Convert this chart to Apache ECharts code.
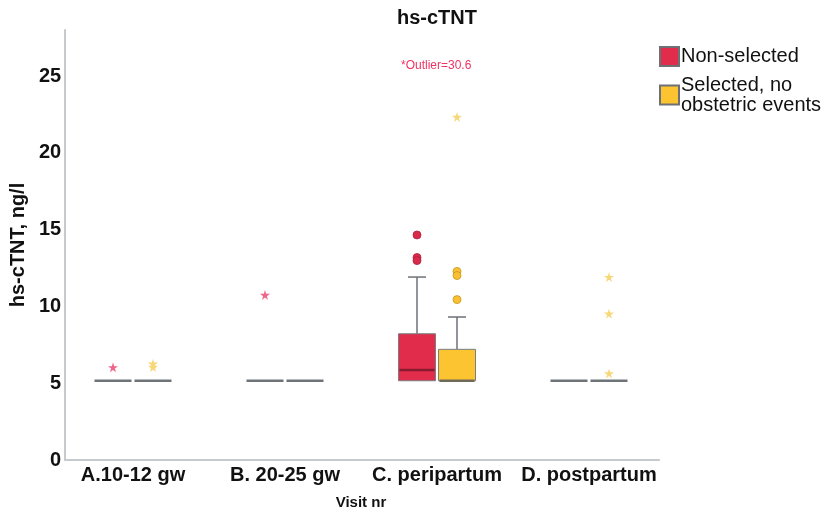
<!DOCTYPE html>
<html>
<head>
<meta charset="utf-8">
<script src="https://cdn.jsdelivr.net/npm/echarts@6/dist/echarts.min.js"></script>
<style>
  html, body { margin: 0; padding: 0; background: #fff; }
  #chart { width: 829px; height: 515px; }
</style>
</head>
<body>
<div id="chart"></div>
<script>
// visit categories
const categories = ['A.10-12 gw', 'B. 20-25 gw', 'C. peripartum', 'D. postpartum']

// box stats per visit: [min, q1, median, q3, max]
const nonSelectedBox = [[5, 5, 5, 5, 5], [5, 5, 5, 5, 5], [5, 5, 5.7, 8.08, 11.8], [5, 5, 5, 5, 5]]
const selectedBox = [[5, 5, 5, 5, 5], [5, 5, 5, 5, 5], [5, 5, 5, 7.06, 9.18], [5, 5, 5, 5, 5]]

// outliers: [visit index, value]
const nonSelectedCircles = [[2, 14.56], [2, 13.08], [2, 12.88]]
const nonSelectedStars = [[0, 5.88], [1, 10.63]]
const selectedCircles = [[2, 12.17], [2, 11.9], [2, 10.32]]
const selectedStars = [[0, 6.12], [0, 5.9], [2, 22.3], [3, 11.8], [3, 9.4], [3, 5.48]]

const yTicks = [0, 5, 10, 15, 20, 25]

const FONT = "'Liberation Sans', Arial, sans-serif"
const STAR = 'path://M50,0 L61,35 L98,35 L68,57 L79,91 L50,70 L21,91 L32,57 L2,35 L39,35 Z'

const chart = echarts.init(document.getElementById('chart'))

const boxRender = (offset, fill, medianColor) => (params, api) => {
  const c = api.value(0)
  const lo = api.value(1), q1 = api.value(2), med = api.value(3), q3 = api.value(4), hi = api.value(5)
  const halfW = 18.5
  const capW = 9
  const x = api.coord([c, q1])[0] + offset
  const yQ1 = api.coord([c, q1])[1]
  const yQ3 = api.coord([c, q3])[1]
  const yMed = api.coord([c, med])[1]
  const yLo = api.coord([c, lo])[1]
  const yHi = api.coord([c, hi])[1]
  const whisker = { stroke: '#6c7176', lineWidth: 1.5 }
  const children = []
  if (hi > q3) {
    children.push({ type: 'line', shape: { x1: x, y1: yQ3, x2: x, y2: yHi }, style: whisker })
    children.push({ type: 'line', shape: { x1: x - capW, y1: yHi, x2: x + capW, y2: yHi }, style: whisker })
  }
  if (lo < q1) {
    children.push({ type: 'line', shape: { x1: x, y1: yQ1, x2: x, y2: yLo }, style: whisker })
    children.push({ type: 'line', shape: { x1: x - capW, y1: yLo, x2: x + capW, y2: yLo }, style: whisker })
  }
  if (q3 > q1) {
    children.push({
      type: 'rect',
      shape: { x: x - halfW, y: yQ3, width: halfW * 2, height: yQ1 - yQ3 },
      style: { fill: fill, stroke: '#7a7e82', lineWidth: 1 }
    })
    children.push({
      type: 'line',
      shape: { x1: x - halfW + 1, y1: yMed, x2: x + halfW - 1, y2: yMed },
      style: { stroke: medianColor, lineWidth: 2.5 }
    })
  } else {
    children.push({
      type: 'line',
      shape: { x1: x - halfW, y1: yMed, x2: x + halfW, y2: yMed },
      style: { stroke: '#6f7479', lineWidth: 2.5 }
    })
  }
  return { type: 'group', children }
}

const toRows = (boxes) => boxes.map((b, i) => [i, ...b])

const axisLineStyle = { color: '#c6cacd', width: 2 }

const option = {
  animation: false,
  textStyle: { fontFamily: FONT },
  title: {
    text: 'hs-cTNT',
    left: 397,
    top: 8,
    padding: 0,
    textStyle: { fontFamily: FONT, fontSize: 20, fontWeight: 'bold', color: '#111' }
  },
  graphic: [{
    type: 'text',
    left: 401,
    top: 60,
    style: { text: '*Outlier=30.6', fill: '#ef3463', font: '12px ' + FONT }
  }],
  legend: {
    orient: 'vertical',
    left: 659,
    top: 46,
    padding: 0,
    itemWidth: 19,
    itemHeight: 19,
    itemGap: 8,
    icon: 'rect',
    data: ['Non-selected', 'Selected, no\nobstetric events'],
    textStyle: { fontFamily: FONT, fontSize: 20, lineHeight: 20, color: '#111', padding: [0, 0, 0, -3] }
  },
  grid: [
    { left: 63, right: 170, top: 30, bottom: 55 },
    { left: 57, right: 164, top: 30, bottom: 55 }
  ],
  xAxis: [{
    gridIndex: 0,
    type: 'category',
    data: categories,
    axisLine: { show: true, lineStyle: axisLineStyle },
    axisTick: { show: false },
    axisLabel: { show: false },
    splitLine: { show: false }
  }, {
    gridIndex: 1,
    type: 'category',
    data: categories,
    axisLine: { show: false },
    axisTick: { show: false },
    axisLabel: { interval: 0, fontFamily: FONT, fontSize: 20, fontWeight: 'bold', color: '#111', margin: 8 },
    name: 'Visit nr',
    nameLocation: 'middle',
    nameGap: 38,
    nameTextStyle: { fontFamily: FONT, fontSize: 15, fontWeight: 'bold', color: '#111' }
  }],
  yAxis: [{
    gridIndex: 0,
    type: 'value',
    min: 0,
    max: 28,
    interval: 5,
    axisLine: { show: true, lineStyle: axisLineStyle },
    axisTick: { show: false },
    splitLine: { show: false },
    axisLabel: {
      fontFamily: FONT, fontSize: 20, fontWeight: 'bold', color: '#111', margin: 4,
      formatter: v => (yTicks.includes(v) ? String(v) : '')
    },
    name: 'hs-cTNT, ng/l',
    nameLocation: 'middle',
    nameGap: 34,
    nameTextStyle: { fontFamily: FONT, fontSize: 20, fontWeight: 'bold', color: '#111' }
  }, {
    gridIndex: 1,
    type: 'value',
    min: 0,
    max: 28,
    show: false
  }],
  series: [{
    name: 'Non-selected',
    type: 'custom',
    xAxisIndex: 1,
    yAxisIndex: 1,
    data: toRows(nonSelectedBox),
    encode: { x: 0, y: [1, 2, 3, 4, 5] },
    itemStyle: { color: '#e12c4b', borderColor: '#6d7075', borderWidth: 1 },
    renderItem: boxRender(-20, '#e12c4b', '#8a1a2f')
  }, {
    name: 'Selected, no\nobstetric events',
    type: 'custom',
    xAxisIndex: 1,
    yAxisIndex: 1,
    data: toRows(selectedBox),
    encode: { x: 0, y: [1, 2, 3, 4, 5] },
    itemStyle: { color: '#fdc431', borderColor: '#6d7075', borderWidth: 1 },
    renderItem: boxRender(20, '#fdc431', '#6f6a5a')
  }, {
    name: 'ns-circles',
    type: 'scatter',
    xAxisIndex: 1,
    yAxisIndex: 1,
    data: nonSelectedCircles,
    symbol: 'circle',
    symbolSize: 8,
    symbolOffset: [-20, 0],
    itemStyle: { color: '#d92a4a', borderColor: '#b02040', borderWidth: 0.8, opacity: 1 },
    z: 5
  }, {
    name: 'ns-stars',
    type: 'scatter',
    xAxisIndex: 1,
    yAxisIndex: 1,
    data: nonSelectedStars,
    symbol: STAR,
    symbolSize: 10,
    symbolOffset: [-20, 0],
    itemStyle: { color: '#f0668a', opacity: 1 },
    z: 5
  }, {
    name: 's-circles',
    type: 'scatter',
    xAxisIndex: 1,
    yAxisIndex: 1,
    data: selectedCircles,
    symbol: 'circle',
    symbolSize: 8,
    symbolOffset: [20, 0],
    itemStyle: { color: '#f9c131', borderColor: '#c8961e', borderWidth: 0.8, opacity: 1 },
    z: 5
  }, {
    name: 's-stars',
    type: 'scatter',
    xAxisIndex: 1,
    yAxisIndex: 1,
    data: selectedStars,
    symbol: STAR,
    symbolSize: 10,
    symbolOffset: [20, 0],
    itemStyle: { color: '#f7d878', opacity: 1 },
    z: 5
  }]
}

chart.setOption(option)
</script>
</body>
</html>
